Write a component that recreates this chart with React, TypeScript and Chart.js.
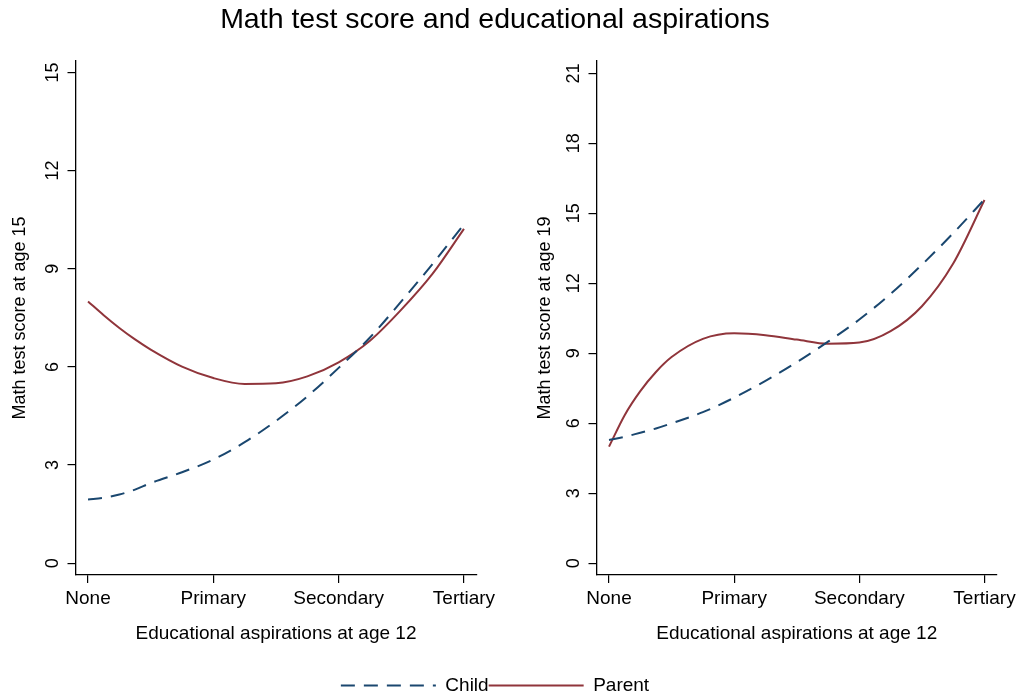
import React, { useEffect, useRef } from "react";
import { Chart, registerables } from "chart.js";
Chart.register(...registerables);

const FONT = "'Liberation Sans', Arial, Helvetica, sans-serif";
Chart.defaults.font.family = FONT;
Chart.defaults.color = "#000";

const NAVY = "#1a476f";
const CRANBERRY = "#90353b";

const chartTitle = "Math test score and educational aspirations";
const xAxisTitle = "Educational aspirations at age 12";
const categories = ["None", "Primary", "Secondary", "Tertiary"];
const seriesNames = ["Child", "Parent"];

// positions along the aspiration axis (0 = None ... 3 = Tertiary)
const aspirationPositions = [0, 0.125, 0.25, 0.375, 0.5, 0.75, 1, 1.25, 1.5, 1.75, 2, 2.25, 2.5, 2.75, 3];

// Left panel: score at age 15
const childAge15 = [1.95, 2.0, 2.1, 2.25, 2.45, 2.78, 3.17, 3.7, 4.35, 5.1, 5.97, 6.9, 8.0, 9.15, 10.36];
const parentAge15 = [8.0, 7.58, 7.19, 6.84, 6.53, 6.01, 5.66, 5.48, 5.5, 5.71, 6.14, 6.8, 7.75, 8.85, 10.22];
const yTicksAge15 = [0, 3, 6, 9, 12, 15];

// Right panel: score at age 19
const childAge19 = [5.29, 5.42, 5.6, 5.78, 6.0, 6.48, 7.1, 7.82, 8.62, 9.5, 10.45, 11.55, 12.8, 14.15, 15.6];
const parentAge19 = [5.0, 6.35, 7.38, 8.2, 8.84, 9.62, 9.86, 9.78, 9.59, 9.41, 9.46, 9.95, 11.02, 12.85, 15.57];
const yTicksAge19 = [0, 3, 6, 9, 12, 15, 18, 21];

const DASH = [14, 9];

type PanelProps = {
  child: number[];
  parent: number[];
  yTicks: number[];
  yMin: number;
  yMax: number;
  yTitle: string;
  left: number;
  width: number;
  yAxisWidth: number;
  padRight: number;
  titlePad: number;
  tickPad: number;
};

function Panel(p: PanelProps) {
  const ref = useRef<HTMLCanvasElement | null>(null);
  useEffect(() => {
    if (!ref.current) return;
    const xFont = { family: FONT, size: 19 };
    const yFont = { family: FONT, size: 18 };
    const chart = new Chart(ref.current, {
      type: "line",
      data: {
        datasets: [
          {
            label: seriesNames[0],
            data: aspirationPositions.map((x, i) => ({ x, y: p.child[i] })),
            borderColor: NAVY,
            borderWidth: 2,
            borderDash: DASH,
            pointRadius: 0,
            cubicInterpolationMode: "monotone",
            fill: false,
          },
          {
            label: seriesNames[1],
            data: aspirationPositions.map((x, i) => ({ x, y: p.parent[i] })),
            borderColor: CRANBERRY,
            borderWidth: 2,
            pointRadius: 0,
            cubicInterpolationMode: "monotone",
            fill: false,
          },
        ],
      },
      options: {
        animation: false,
        responsive: false,
        maintainAspectRatio: false,
        layout: { padding: { top: 21, right: p.padRight, left: 0, bottom: 0 } },
        plugins: { legend: { display: false }, tooltip: { enabled: false }, title: { display: false } },
        scales: {
          x: {
            type: "linear",
            min: -0.1,
            max: 3.1,
            afterBuildTicks: (a: any) => {
              a.ticks = categories.map((_, i) => ({ value: i }));
            },
            afterFit: (a: any) => {
              a.height = 75;
            },
            ticks: {
              callback: (v: any) => categories[Math.round(Number(v))] ?? "",
              font: xFont,
              color: "#000",
              padding: 4,
              maxRotation: 0,
              minRotation: 0,
              autoSkip: false,
              includeBounds: false,
            },
            grid: { display: true, drawOnChartArea: false, drawTicks: true, tickLength: 8, color: "#000", lineWidth: 1.2 },
            border: { display: true, color: "#000", width: 1.3 },
            title: { display: true, text: xAxisTitle, font: xFont, color: "#000", padding: { top: 4, bottom: 5 } },
          },
          y: {
            type: "linear",
            min: p.yMin,
            max: p.yMax,
            afterBuildTicks: (a: any) => {
              a.ticks = p.yTicks.map((v) => ({ value: v }));
            },
            afterFit: (a: any) => {
              a.width = p.yAxisWidth;
            },
            ticks: {
              font: yFont,
              color: "#000",
              padding: p.tickPad,
              minRotation: 90,
              maxRotation: 90,
              crossAlign: "center",
              autoSkip: false,
              includeBounds: false,
            },
            grid: { display: true, drawOnChartArea: false, drawTicks: true, tickLength: 8, color: "#000", lineWidth: 1.2 },
            border: { display: true, color: "#000", width: 1.3 },
            title: { display: true, text: p.yTitle, font: yFont, color: "#000", padding: { top: p.titlePad, bottom: 0 } },
          },
        },
      } as any,
    });
    return () => chart.destroy();
  }, []);
  return (
    <canvas
      ref={ref}
      width={p.width}
      height={610}
      style={{ position: "absolute", left: p.left, top: 40, width: p.width, height: 610 }}
    />
  );
}

function Frame() {
  const ref = useRef<HTMLCanvasElement | null>(null);
  useEffect(() => {
    if (!ref.current) return;
    const chart = new Chart(ref.current, {
      type: "line",
      data: {
        datasets: [
          { label: seriesNames[0], data: [], borderColor: NAVY, backgroundColor: NAVY, borderWidth: 2, borderDash: DASH },
          { label: seriesNames[1], data: [], borderColor: CRANBERRY, backgroundColor: CRANBERRY, borderWidth: 2 },
        ],
      },
      options: {
        animation: false,
        responsive: false,
        maintainAspectRatio: false,
        layout: { padding: { right: 37, bottom: 2 } },
        scales: { x: { display: false }, y: { display: false } },
        plugins: {
          tooltip: { enabled: false },
          title: {
            display: true,
            text: chartTitle,
            color: "#000",
            font: { family: FONT, size: 28.5, weight: "normal" },
            padding: { top: 3, bottom: 0 },
          },
          legend: {
            display: true,
            position: "bottom",
            labels: {
              usePointStyle: true,
              pointStyle: "line",
              pointStyleWidth: 95,
              boxWidth: 95,
              color: "#000",
              font: { family: FONT, size: 19 },
              padding: 0,
              generateLabels: (c: any) => {
                const items = (Chart.defaults.plugins.legend.labels as any).generateLabels(c);
                return items.map((it: any, i: number) => ({
                  ...it,
                  pointStyle: "line",
                  lineWidth: 2,
                  strokeStyle: i === 0 ? NAVY : CRANBERRY,
                  lineDash: i === 0 ? DASH : [],
                }));
              },
            },
          },
        },
      } as any,
    });
    return () => chart.destroy();
  }, []);
  return (
    <canvas ref={ref} width={1027} height={707} style={{ position: "absolute", left: 0, top: 0, width: 1027, height: 707 }} />
  );
}

export default function App() {
  return (
    <div style={{ position: "fixed", left: 0, top: 0, width: 1027, height: 696, background: "#fff", overflow: "hidden" }}>
      <Frame />
      <Panel
        child={childAge15}
        parent={parentAge15}
        yTicks={yTicksAge15}
        yMin={-0.36}
        yMax={15.35}
        yTitle="Math test score at age 15"
        left={0}
        width={500}
        yAxisWidth={75.5}
        padRight={23.5}
        titlePad={9}
        tickPad={4}
      />
      <Panel
        child={childAge19}
        parent={parentAge19}
        yTicks={yTicksAge19}
        yMin={-0.5}
        yMax={21.53}
        yTitle="Math test score at age 19"
        left={520}
        width={507}
        yAxisWidth={76.5}
        padRight={30}
        titlePad={14}
        tickPad={4}
      />
    </div>
  );
}
